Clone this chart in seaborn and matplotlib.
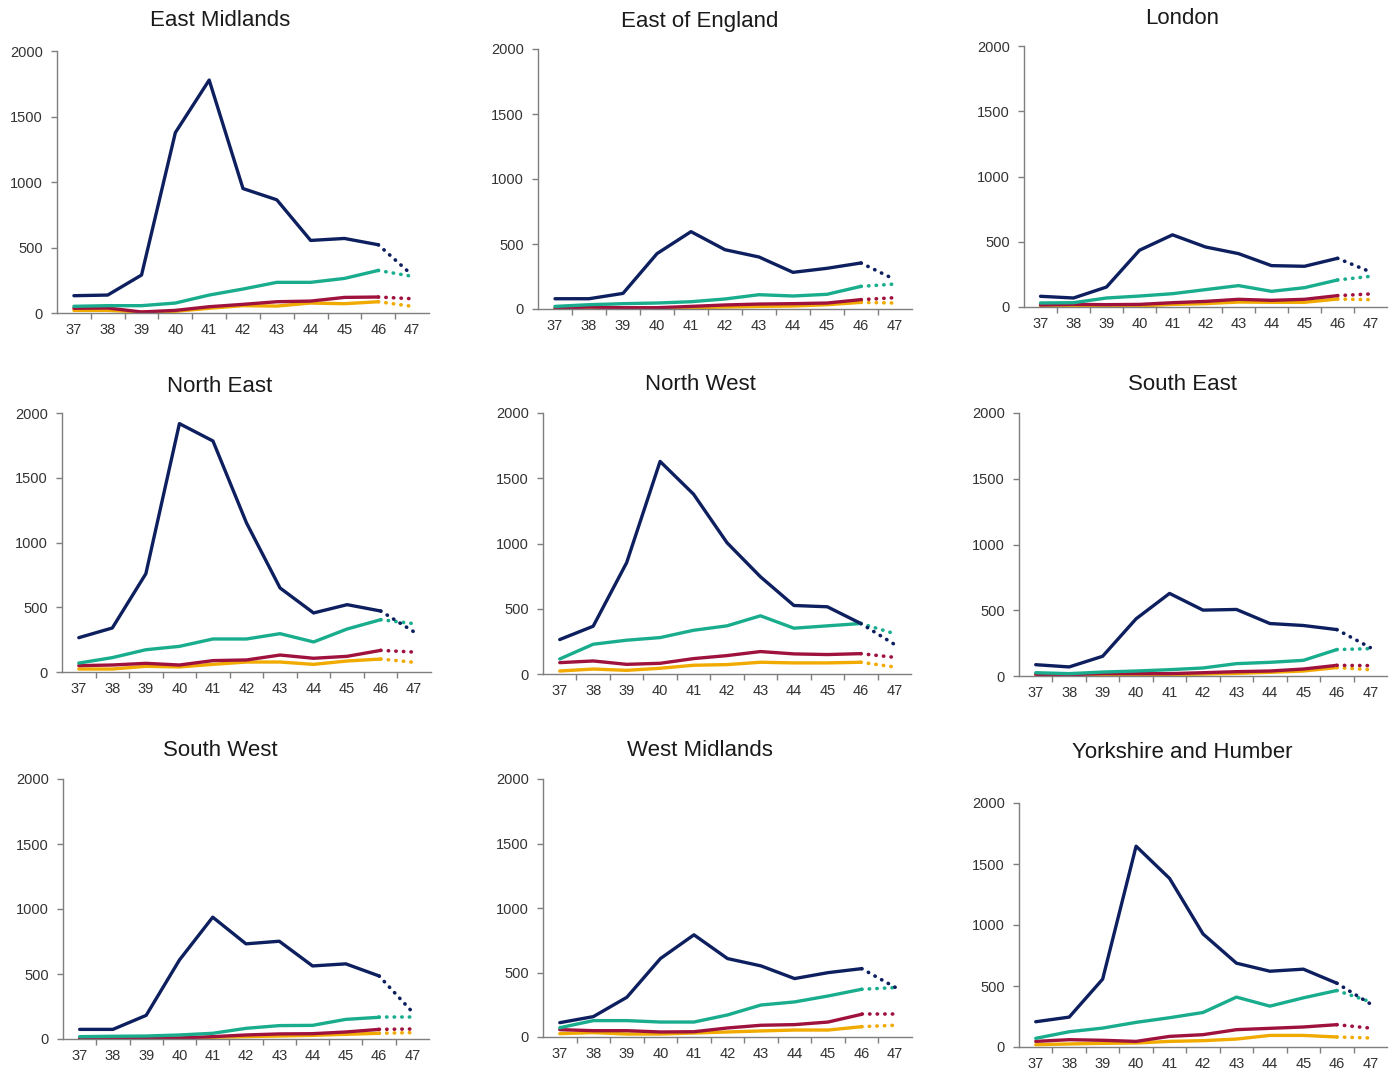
import matplotlib
matplotlib.use("Agg")
import matplotlib.pyplot as plt
import numpy as np
import pandas as pd
import seaborn as sns
from matplotlib.ticker import FixedLocator

# ---------------- data ----------------
years = [37, 38, 39, 40, 41, 42, 43, 44, 45, 46, 47]
region_names = ["East Midlands", "East of England", "London",
                "North East", "North West", "South East",
                "South West", "West Midlands", "Yorkshire and Humber"]
series_names = ["Series 1", "Series 2", "Series 3", "Series 4"]
series_colors = ["#0d1f5e", "#19ad8e", "#a0123e", "#f0aa00"]
y_ticks = [0, 500, 1000, 1500, 2000]

east_midlands_1 = [132, 137, 290, 1377, 1778, 950, 864, 554, 569, 521, 290]
east_midlands_2 = [51, 56, 56, 76, 137, 183, 234, 234, 264, 325, 280]
east_midlands_3 = [36, 38, 8, 20, 48, 66, 86, 91, 119, 122, 109]
east_midlands_4 = [20, 20, 8, 13, 36, 56, 53, 76, 71, 86, 51]

east_of_england_1 = [79, 79, 120, 426, 595, 456, 400, 282, 313, 354, 226]
east_of_england_2 = [20, 33, 41, 46, 56, 77, 110, 100, 113, 174, 192]
east_of_england_3 = [8, 15, 10, 10, 20, 31, 38, 41, 46, 72, 87]
east_of_england_4 = [3, 8, 5, 5, 10, 15, 20, 23, 33, 51, 46]

london_1 = [82, 69, 153, 435, 553, 460, 409, 317, 312, 373, 269]
london_2 = [31, 33, 69, 84, 102, 133, 164, 120, 148, 207, 235]
london_3 = [15, 20, 18, 20, 33, 43, 59, 51, 59, 87, 100]
london_4 = [8, 10, 8, 8, 20, 26, 38, 36, 36, 61, 56]

north_east_1 = [265, 340, 759, 1918, 1784, 1151, 649, 456, 520, 471, 309]
north_east_2 = [69, 111, 172, 198, 255, 255, 296, 232, 332, 404, 373]
north_east_3 = [49, 54, 67, 54, 88, 93, 131, 106, 121, 167, 154]
north_east_4 = [23, 23, 44, 39, 59, 77, 77, 59, 85, 100, 75]

north_west_1 = [264, 366, 853, 1629, 1378, 1006, 745, 525, 515, 387, 228]
north_west_2 = [115, 228, 259, 279, 335, 369, 446, 351, 369, 387, 310]
north_west_3 = [87, 100, 74, 82, 118, 141, 172, 154, 149, 156, 128]
north_west_4 = [23, 38, 28, 44, 67, 72, 90, 85, 85, 90, 54]

south_east_1 = [86, 69, 150, 435, 628, 501, 506, 399, 384, 353, 216]
south_east_2 = [25, 18, 30, 38, 48, 61, 94, 104, 119, 201, 208]
south_east_3 = [13, 10, 18, 18, 18, 25, 33, 38, 53, 81, 79]
south_east_4 = [5, 5, 8, 8, 10, 15, 20, 28, 38, 64, 48]

south_west_1 = [74, 74, 182, 608, 937, 732, 752, 562, 578, 485, 208]
south_west_2 = [18, 21, 23, 31, 44, 82, 103, 105, 151, 167, 167]
south_west_3 = [5, 5, 8, 8, 18, 31, 39, 41, 54, 74, 77]
south_west_4 = [3, 3, 5, 5, 13, 18, 23, 28, 36, 44, 49]

west_midlands_1 = [111, 158, 308, 608, 792, 608, 551, 453, 499, 530, 385]
west_midlands_2 = [72, 127, 127, 116, 116, 171, 248, 272, 318, 370, 383]
west_midlands_3 = [57, 49, 49, 39, 41, 70, 91, 96, 116, 176, 176]
west_midlands_4 = [26, 34, 23, 23, 31, 39, 47, 54, 54, 80, 91]

yorkshire_1 = [207, 245, 556, 1646, 1382, 927, 687, 621, 638, 523, 354]
yorkshire_2 = [71, 125, 155, 202, 240, 283, 409, 335, 403, 463, 371]
yorkshire_3 = [46, 60, 55, 46, 87, 101, 142, 153, 164, 183, 155]
yorkshire_4 = [19, 25, 30, 33, 46, 52, 65, 95, 95, 82, 74]

region_series = [
    [east_midlands_1, east_midlands_2, east_midlands_3, east_midlands_4],
    [east_of_england_1, east_of_england_2, east_of_england_3, east_of_england_4],
    [london_1, london_2, london_3, london_4],
    [north_east_1, north_east_2, north_east_3, north_east_4],
    [north_west_1, north_west_2, north_west_3, north_west_4],
    [south_east_1, south_east_2, south_east_3, south_east_4],
    [south_west_1, south_west_2, south_west_3, south_west_4],
    [west_midlands_1, west_midlands_2, west_midlands_3, west_midlands_4],
    [yorkshire_1, yorkshire_2, yorkshire_3, yorkshire_4],
]

rows = []
for reg, slist in zip(region_names, region_series):
    for sname, vals in zip(series_names, slist):
        for yr, v in zip(years, vals):
            rows.append({"region": reg, "series": sname, "year": yr, "value": v})
df = pd.DataFrame(rows)

# ---------------- layout ----------------
sns.set_theme(style="white")
plt.rcParams["font.family"] = ["Liberation Sans", "DejaVu Sans"]

W, H = 1389, 1072
fig = plt.figure(figsize=(W / 100, H / 100), dpi=100)

# (left, right, top, bottom) in pixels
boxes = [
    (57, 429, 51, 313), (538, 912, 49, 309), (1024, 1387, 46, 307),
    (62, 431, 413, 672), (543, 911, 413, 674), (1019, 1387, 413, 676),
    (63, 429, 779, 1039), (543, 912, 779, 1037), (1019, 1387, 803, 1047),
]
title_pos = [
    (220, 21), (700, 21), (1182, 18),
    (220, 387), (700, 385), (1182, 385),
    (220, 751), (700, 751), (1182, 753),
]

palette = dict(zip(series_names, series_colors))
draw_order = series_names[::-1]

for reg, (l, r, t, b), (tx, ty) in zip(region_names, boxes, title_pos):
    ax = fig.add_axes([l / W, 1 - b / H, (r - l) / W, (b - t) / H])
    sub = df[df["region"] == reg]
    solid = sub[sub["year"] <= 46]
    dotted = sub[sub["year"] >= 46]
    sns.lineplot(data=solid, x="year", y="value", hue="series",
                 hue_order=draw_order, palette=palette, linewidth=2.4,
                 legend=False, ax=ax, estimator=None, sort=False)
    sns.lineplot(data=dotted, x="year", y="value", hue="series",
                 hue_order=draw_order, palette=palette, linewidth=2.6,
                 linestyle=(0, (0.1, 2.0)), dash_capstyle="round",
                 legend=False, ax=ax, estimator=None, sort=False)
    ax.set_xlim(years[0] - 0.5, years[-1] + 0.5)
    ax.set_ylim(0, 2000)
    ax.set_xlabel("")
    ax.set_ylabel("")
    ax.xaxis.set_major_locator(FixedLocator(years))
    ax.set_xticklabels([str(y) for y in years])
    ax.xaxis.set_minor_locator(FixedLocator([y + 0.5 for y in years[:-1]]))
    ax.set_yticks(y_ticks)
    ax.set_yticklabels([str(v) for v in y_ticks])
    ax.tick_params(axis="x", which="major", length=0, pad=7, labelsize=10.5,
                   labelcolor="#333333")
    ax.tick_params(axis="x", which="minor", bottom=True, length=4, width=1,
                   color="#7f7f7f", direction="out")
    ax.tick_params(axis="y", which="major", left=True, length=4, width=1,
                   color="#7f7f7f", direction="out", pad=6, labelsize=10.5,
                   labelcolor="#333333")
    for side in ["top", "right"]:
        ax.spines[side].set_visible(False)
    for side in ["left", "bottom"]:
        ax.spines[side].set_color("#7f7f7f")
        ax.spines[side].set_linewidth(1.0)
    ax.set_facecolor("white")
    ax.grid(False)
    fig.text(tx / W, 1 - ty / H, reg, ha="center", va="center",
             fontsize=16, color="#1a1a1a")

fig.savefig("out.png", dpi=100, facecolor="white")
